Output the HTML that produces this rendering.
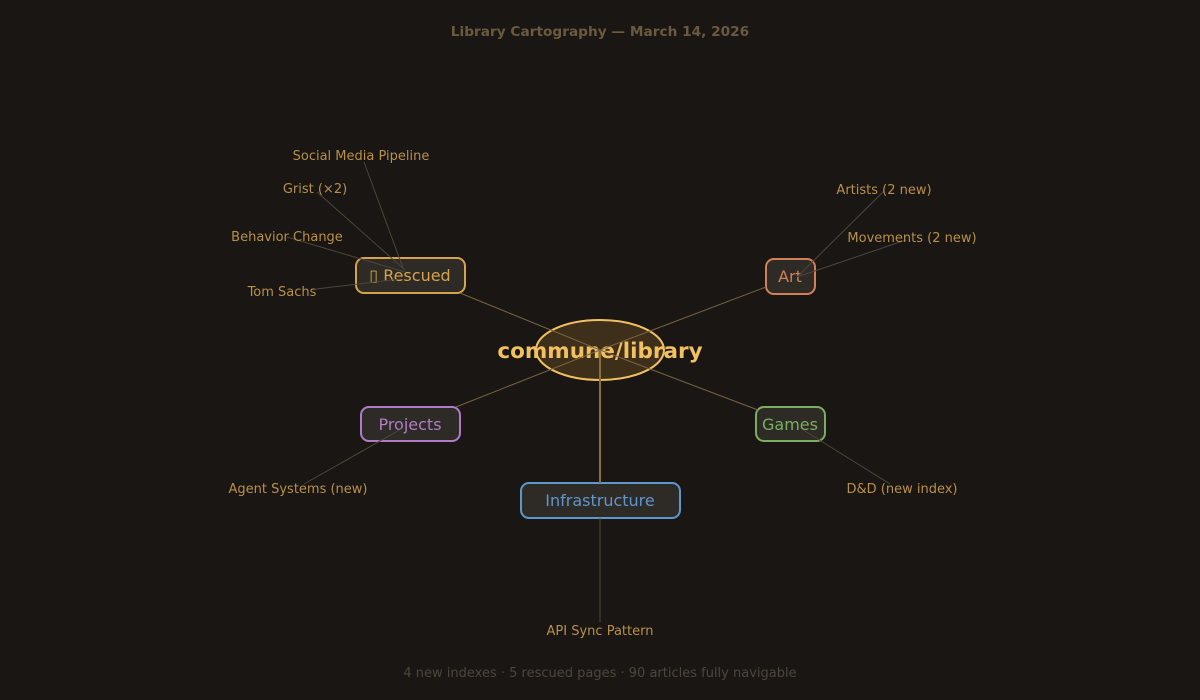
<!DOCTYPE html>
<html><head><meta charset="utf-8"><style>
html,body{margin:0;padding:0;background:#1a1614;}
svg{display:block;font-family:"Liberation Sans","DejaVu Sans",sans-serif;}
</style></head><body>
<svg width="1200" height="700" viewBox="0 0 1200 700" xmlns="http://www.w3.org/2000/svg">
<rect width="1200" height="700" fill="#1a1614"/>
<text x="600" y="36" text-anchor="middle" font-size="13.7" font-weight="bold" fill="#6b5a3e" font-family="DejaVu Sans,sans-serif">Library Cartography — March 14, 2026</text>

<g fill="#2e2a26" stroke-width="2">
<ellipse cx="600" cy="350" rx="64" ry="30" fill="#3d2f1a" stroke="#f2c060"/>
<rect x="356" y="258" width="109" height="35" rx="8" stroke="#d4a44c"/>
<rect x="766" y="259" width="49" height="35" rx="8" stroke="#d47f55"/>
<rect x="361" y="407" width="99" height="34" rx="8" stroke="#b07cc6"/>
<rect x="756" y="407" width="69" height="34" rx="8" stroke="#79b060"/>
<rect x="521" y="483" width="159" height="35" rx="8" stroke="#5f96cc"/>
</g>

<g font-family="DejaVu Sans,sans-serif" text-anchor="middle">
<text x="600" y="358" font-size="21.5" font-weight="bold" fill="#f2c060">commune/library</text>
<text x="410" y="281" font-size="16" fill="#d4a44c">▯ Rescued</text>
<text x="790" y="282" font-size="16" fill="#d47f55">Art</text>
<text x="410" y="430" font-size="16" fill="#b07cc6">Projects</text>
<text x="790" y="430" font-size="16" fill="#79b060">Games</text>
<text x="600" y="506" font-size="16" fill="#5f96cc">Infrastructure</text>
</g>

<g stroke="#7a6440" stroke-width="1" fill="none">
<line x1="600" y1="350" x2="460" y2="293"/>
<line x1="600" y1="350" x2="766" y2="287"/>
<line x1="600" y1="350" x2="456" y2="407"/>
<line x1="600" y1="350" x2="758" y2="410"/>
<line x1="600" y1="350" x2="600" y2="483" stroke-width="2" stroke="#8a7040"/>
</g>
<g stroke="#4e4538" stroke-width="1" fill="none">
<line x1="364" y1="162" x2="403" y2="268"/>
<line x1="317" y1="192" x2="405" y2="270"/>
<line x1="287" y1="237" x2="405" y2="272"/>
<line x1="316" y1="289" x2="400" y2="279"/>
<line x1="884" y1="191" x2="797" y2="277"/>
<line x1="906" y1="240" x2="797" y2="277"/>
<line x1="304" y1="484" x2="403" y2="428"/>
<line x1="890" y1="484" x2="800" y2="428"/>
<line x1="600" y1="518" x2="600" y2="622"/>
</g>

<g font-family="DejaVu Sans,sans-serif" font-size="13" fill="#b8904a" text-anchor="middle">
<text x="361" y="160">Social Media Pipeline</text>
<text x="315" y="193">Grist (×2)</text>
<text x="287" y="241">Behavior Change</text>
<text x="282" y="296">Tom Sachs</text>
<text x="884" y="194">Artists (2 new)</text>
<text x="912" y="242">Movements (2 new)</text>
<text x="298" y="493">Agent Systems (new)</text>
<text x="902" y="493">D&amp;D (new index)</text>
<text x="600" y="635">API Sync Pattern</text>
</g>

<text x="600" y="677" text-anchor="middle" font-size="13" fill="#4e463c" font-family="DejaVu Sans,sans-serif">4 new indexes · 5 rescued pages · 90 articles fully navigable</text>
</svg>
</body></html>
